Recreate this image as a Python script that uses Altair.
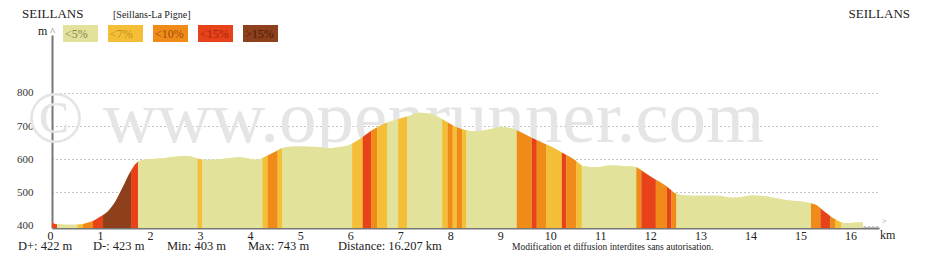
import altair as alt
import numpy as np
import pandas as pd

# ---------------- data ----------------
PROFILE_KM = [0, 0.06, 0.13, 0.3, 0.45, 0.6, 0.82, 1.02, 1.15, 1.28, 1.42, 1.55, 1.65, 1.72, 1.8,
              1.95, 2.2, 2.45, 2.7, 2.9, 3.0, 3.2, 3.45, 3.75, 3.95, 4.1, 4.25, 4.45, 4.6,
              4.75, 5.0, 5.3, 5.55, 5.75, 5.95, 6.2, 6.4, 6.65, 6.95, 7.15, 7.35, 7.55, 7.75,
              8.05, 8.25, 8.45, 8.75, 8.95, 9.1, 9.28, 9.6, 9.95, 10.27, 10.45, 10.6, 10.9,
              11.15, 11.4, 11.67, 11.95, 12.27, 12.45, 12.6, 12.95, 13.3, 13.6, 14.05, 14.3,
              14.6, 15.15, 15.3, 15.45, 15.6, 15.75, 15.85, 16.0, 16.207]
PROFILE_ELEV = [411, 405, 404, 403, 403, 404, 414, 432, 449, 477, 518, 558, 583, 593, 598,
                600, 603, 608, 610, 603, 599, 599, 602, 606, 602, 599, 607, 622, 634,
                638, 639, 637, 633, 637, 643, 666, 688, 708, 722, 731, 740, 738, 725,
                699, 688, 684, 691, 697, 696, 688, 664, 640, 614, 598, 580, 576,
                581, 580, 577, 550, 520, 498, 492, 490, 490, 484, 491, 488,
                479, 468, 460, 441, 424, 412, 408, 409, 410]

SEG_START = [0.00, 0.10, 0.51, 0.62, 0.82, 1.02, 1.58, 1.72, 2.91, 3.00, 4.21, 4.31, 4.51,
             4.60, 6.00, 6.21, 6.38, 6.50, 6.70, 6.92, 7.10, 7.80, 7.91, 8.01, 8.09, 8.20,
             8.28, 9.29, 9.59, 9.69, 9.88, 10.19, 10.28, 10.48, 10.59, 11.68, 11.78, 12.07,
             12.29, 12.38, 12.48, 15.17, 15.36, 15.56, 15.66, 15.77]
SEG_END = SEG_START[1:] + [16.207]
SEG_CLASS = ["<15%", "<5%", "<7%", "<10%", "<15%", ">15%", "<15%", "<5%", "<7%", "<5%",
             "<7%", "<10%", "<7%", "<5%", "<7%", "<15%", "<10%", "<7%", "<5%", "<7%", "<5%",
             "<7%", "<10%", "<7%", "<10%", "<7%", "<5%", "<10%", "<15%", "<10%", "<7%",
             "<15%", "<10%", "<7%", "<5%", "<10%", "<15%", "<10%", "<15%", "<10%", "<5%",
             "<10%", "<15%", "<10%", "<7%", "<5%"]

CLASSES = ["<5%", "<7%", "<10%", "<15%", ">15%"]
X_TICKS = list(range(0, 17))
Y_TICKS = [400, 500, 600, 700, 800]
START_NAME = "SEILLANS"
END_NAME = "SEILLANS"
ROUTE_NAME = "[Seillans-La Pigne]"
STATS = ["D+: 422 m", "D-: 423 m", "Min: 403 m", "Max: 743 m", "Distance: 16.207 km"]
NOTICE = "Modification et diffusion interdites sans autorisation."
WATERMARK = "© www.openrunner.com"

# ---------------- styles / layout ----------------
CLASS_COLORS = ["#e2e29b", "#f4bf37", "#f08b1a", "#e8421b", "#8e3f1b"]
CLASS_TEXT = ["#85854f", "#c48c1e", "#9e4d06", "#a3260c", "#4a1e08"]
FONT = "Liberation Serif"
PAD_L, PAD_T = 52, 35
W, H = 827, 193
BASE = 393
xs = alt.Scale(domain=[0, W / 50.03], nice=False, zero=False)
ys = alt.Scale(domain=[BASE, BASE + H * 3.014], nice=False, zero=False)

# ---------------- build segment table ----------------
rows = []
for i, (s, e, c) in enumerate(zip(SEG_START, SEG_END, SEG_CLASS)):
    kms = [s] + [k for k in PROFILE_KM if s < k < e] + [e]
    for k in kms:
        rows.append({"seg": i, "km": k, "elev": float(np.interp(k, PROFILE_KM, PROFILE_ELEV)), "cls": c})
seg_df = pd.DataFrame(rows)
prof_df = pd.DataFrame({"km": PROFILE_KM, "elev": PROFILE_ELEV})


def txt(s, px, py, size, color="#222", align="left", baseline="alphabetic"):
    return alt.Chart(pd.DataFrame({"t": [s]})).mark_text(
        font=FONT, fontSize=size, color=color, align=align, baseline=baseline
    ).encode(text="t:N", x=alt.value(px - PAD_L), y=alt.value(py - PAD_T))


watermark = txt(WATERMARK, 27, 142, 75, color="#e5e5e5")

xaxis = alt.Axis(values=X_TICKS, format="d", title=None, ticks=False, tickSize=0,
                 labelPadding=2, labelOffset=-2, labelFont=FONT, labelFontSize=12,
                 labelColor="#222", labelFlush=False, labelOverlap=False,
                 domainColor="#777", domainWidth=2, grid=False)
yaxis = alt.Axis(values=Y_TICKS, title=None, ticks=False, tickSize=0, labelPadding=19,
                 labelFont=FONT, labelFontSize=11, labelColor="#333", labelFlush=False,
                 domainColor="#777", domainWidth=2, grid=True, gridDash=[1, 3],
                 gridColor="#8a8a8a", gridWidth=1)

base_area = alt.Chart(prof_df).mark_area(interpolate="monotone", color=CLASS_COLORS[0]).encode(
    x=alt.X("km:Q", scale=xs, axis=xaxis),
    y=alt.Y("elev:Q", scale=ys, axis=yaxis),
    y2=alt.Y2(datum=BASE),
)

seg_area = alt.Chart(seg_df).mark_area(interpolate="monotone").encode(
    x=alt.X("km:Q", scale=xs),
    y=alt.Y("elev:Q", scale=ys),
    y2=alt.Y2(datum=BASE),
    color=alt.Color("cls:N", scale=alt.Scale(domain=CLASSES, range=CLASS_COLORS), legend=None),
    detail="seg:N",
)

layers = [watermark, base_area, seg_area]

# legend boxes
for i, (c, fc, tc) in enumerate(zip(CLASSES, CLASS_COLORS, CLASS_TEXT)):
    x0 = 63 + 45 * i
    box = alt.Chart(pd.DataFrame({"t": [c]})).mark_rect(color=fc).encode(
        x=alt.value(x0 - PAD_L), x2=alt.value(x0 + 35 - PAD_L),
        y=alt.value(25 - PAD_T), y2=alt.value(42 - PAD_T))
    layers += [box, txt(c, x0 + 2, 38, 12, color=tc)]

layers += [
    txt(START_NAME, 22, 18, 13),
    txt(ROUTE_NAME, 113, 17.5, 10),
    txt(END_NAME, 910, 18, 13, align="right"),
    txt("m", 38, 34.5, 12),
    txt("^", 52.5, 35, 11, color="#777", align="center"),
    txt(">", 882, 224, 8, color="#888"),
    txt("km", 880, 238.5, 12),
]
for s, px in zip(STATS, [18, 93, 167, 248, 338]):
    layers.append(txt(s, px, 250, 12.5))
layers.append(txt(NOTICE, 512, 250, 9.5))

chart = alt.layer(*layers).properties(
    width=W, height=H,
    autosize=alt.AutoSizeParams(type="none"),
    padding={"left": PAD_L, "top": PAD_T, "right": 926 - PAD_L - W, "bottom": 271 - PAD_T - H},
    background="white",
).configure_view(stroke=None)

chart.save("out.html", embed_options={"renderer": "svg", "actions": False})
